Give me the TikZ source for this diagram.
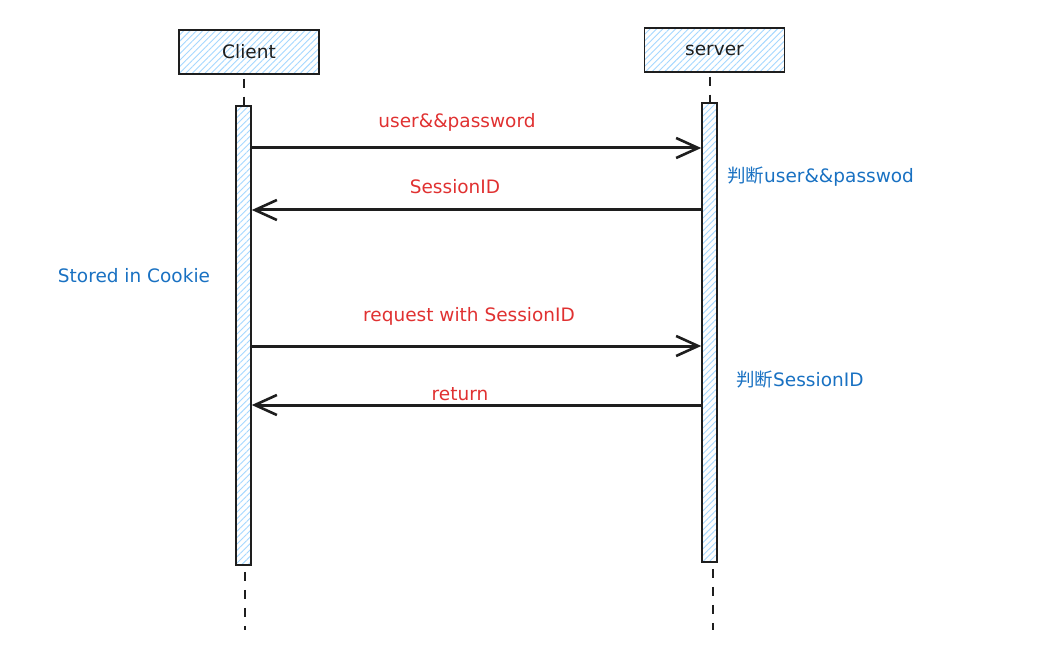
\documentclass[tikz,border=0pt]{standalone}
\usepackage{fontspec}
\setmainfont{DejaVu Sans}
\newfontfamily\cjk{Noto Sans CJK SC}
\usetikzlibrary{arrows.meta,patterns.meta}
\definecolor{hatch}{HTML}{A5D8FF}
\definecolor{msgred}{HTML}{E03131}
\definecolor{noteblue}{HTML}{1971C2}
\definecolor{ink}{HTML}{1E1E1E}
\tikzset{
  hatched/.style={preaction={fill=white}, pattern={Lines[angle=45,distance=4.5pt,line width=0.9pt]},
    pattern color=hatch, draw=ink, line width=1.5pt},
  actor/.style={hatched, minimum width=140pt, minimum height=44pt, inner sep=0pt,
    font=\fontsize{18.5}{21}\selectfont, text=ink},
  bar/.style={hatched, minimum width=15pt, inner sep=0pt},
  lifeline/.style={draw=ink, line width=1.4pt, dash pattern=on 9pt off 9pt},
  msg/.style={draw=ink, line width=3pt, -{Straight Barb[length=22pt,width=20pt,line width=2.6pt]}},
  msglabel/.style={text=msgred, font=\fontsize{18.5}{21}\selectfont, inner sep=1pt},
  note/.style={text=noteblue, font=\fontsize{18.5}{21}\selectfont, inner sep=1pt}
}
\begin{document}
\begin{tikzpicture}[x=1pt,y=-1pt]
\useasboundingbox (0,0) rectangle (1046,660);

% participants
\node[actor] (client) at (249,52) {Client};
\node[actor] (server) at (714.5,50) {server};

% activation bars
\node[bar, minimum height=459pt] (cbar) at (243.5,335.5) {};
\node[bar, minimum height=459pt] (sbar) at (709.5,332.5) {};

% lifelines
\coordinate (cend) at (245,630);
\coordinate (send) at (713,630);
\draw[lifeline] (client.south -| 244,0) ++(0,4) -- (cbar.north -| 244,0);
\draw[lifeline] (server.south -| 710,0) ++(0,4) -- (sbar.north -| 710,0);
\draw[lifeline] (cbar.south -| 245,0) ++(0,6) -- (cend);
\draw[lifeline] (sbar.south -| 713,0) ++(0,6) -- (send);

% messages
\draw[msg] (cbar.east |- 0,148) -- (sbar.west |- 0,148);
\node[msglabel] (m1) at (457,122) {user\&\&password};

\draw[msg] (sbar.west |- 0,210) -- (cbar.east |- 0,210);
\node[msglabel] (m2) at (455,187) {SessionID};

\draw[msg] (cbar.east |- 0,346) -- (sbar.west |- 0,346);
\node[msglabel] (m3) at (469,316) {request with SessionID};

\draw[msg] (sbar.west |- 0,405) -- (cbar.east |- 0,405);
\node[msglabel] (m4) at (460,394) {return};

% notes
\node[note, anchor=west] (n1) at (726,177) {{\cjk 判断}user\&\&passwod};
\node[note] (n2) at (134,276) {Stored in Cookie};
\node[note, anchor=west] (n3) at (735,380) {{\cjk 判断}SessionID};
\end{tikzpicture}
\end{document}
